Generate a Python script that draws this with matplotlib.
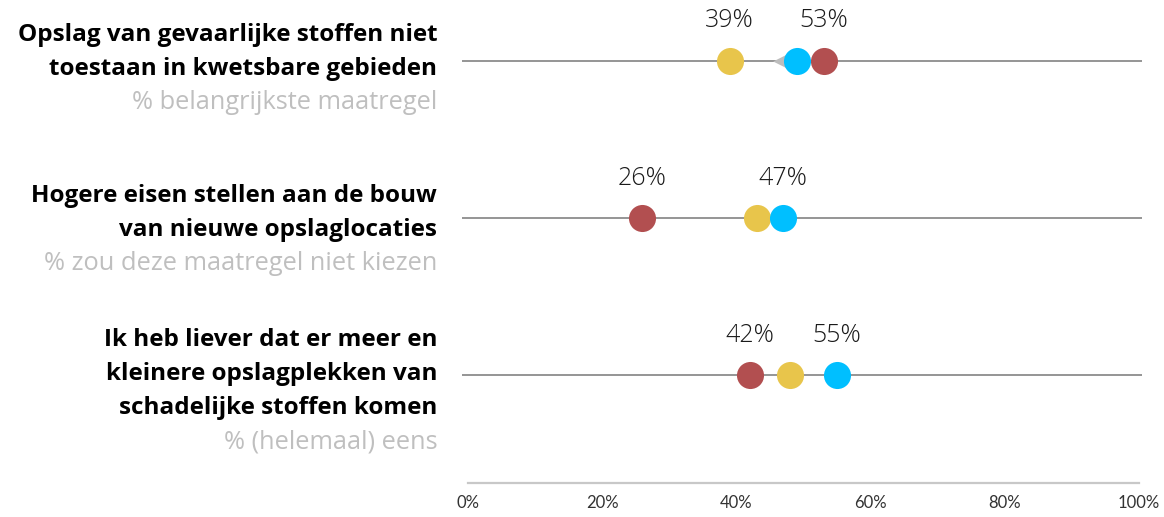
import matplotlib
matplotlib.use("Agg")
import matplotlib.pyplot as plt
from matplotlib.ticker import FuncFormatter

# --- data -------------------------------------------------------------
titles = [
    ["Opslag van gevaarlijke stoffen niet", "toestaan in kwetsbare gebieden"],
    ["Hogere eisen stellen aan de bouw", "van nieuwe opslaglocaties"],
    ["Ik heb liever dat er meer en", "kleinere opslagplekken van", "schadelijke stoffen komen"],
]
subtitles = ["% belangrijkste maatregel", "% zou deze maatregel niet kiezen", "% (helemaal) eens"]

yellow = [39, 43, 48]
blue = [49, 47, 55]
red = [53, 26, 42]
grey_marker = [46.5, None, None]

# value labels shown above each row: (series, row)
labelled = [("yellow", 0), ("red", 0), ("red", 1), ("blue", 1), ("red", 2), ("blue", 2)]

xticks = [0, 20, 40, 60, 80, 100]

# --- style ------------------------------------------------------------
C_YELLOW = "#E8C54B"
C_BLUE = "#00BFFF"
C_RED = "#B24F50"
C_GREY = "#BDBDBD"

W, H = 1164, 517
fig = plt.figure(figsize=(W / 100, H / 100), dpi=100)
ax = fig.add_axes([468 / W, (H - 483) / H, 671 / W, 483 / H])

rows = list(range(len(titles)))
ax.set_xlim(0, 100)
ax.set_ylim(2.687, -0.386)

for r in rows:
    ax.plot([-0.9, 100.4], [r, r], color="#8C8C8C", lw=1.3, zorder=1,
            clip_on=False, solid_capstyle="butt")

for r, v in enumerate(grey_marker):
    if v is not None:
        ax.scatter([v], [r], marker="<", s=110, color=C_GREY, zorder=2, linewidths=0)

series = {"yellow": (yellow, C_YELLOW), "red": (red, C_RED), "blue": (blue, C_BLUE)}
for name in ["yellow", "red", "blue"]:
    vals, col = series[name]
    ax.scatter(vals, rows, s=380, color=col, zorder=3, linewidths=0)

for name, r in labelled:
    v = series[name][0][r]
    ax.annotate(f"{v}%", xy=(v, r), xytext=(0, 24), textcoords="offset points",
                ha="center", va="baseline", fontsize=18, color="#1a1a1a",
                family="Open Sans", fontweight="light")

# row titles on the left, right aligned
first_baseline_px = [-20, -16, -29]
line_px = 34
for r in rows:
    lines = titles[r] + [subtitles[r]]
    for i, line in enumerate(lines):
        is_sub = i == len(lines) - 1
        dy_px = first_baseline_px[r] + i * line_px
        ax.annotate(line, xy=(-0.046, r), xycoords=("axes fraction", "data"),
                    xytext=(0, -dy_px * 0.72), textcoords="offset points",
                    ha="right", va="baseline", fontsize=18.3 if is_sub else 17.5,
                    family="Open Sans", fontweight="normal" if is_sub else "bold",
                    color="#BFBFBF" if is_sub else "black", annotation_clip=False)

ax.set_xticks(xticks)
ax.xaxis.set_major_formatter(FuncFormatter(lambda x, _: f"{int(x)}%"))
ax.tick_params(axis="x", length=0, pad=9, labelsize=12, labelcolor="#333333")
for lbl in ax.get_xticklabels():
    lbl.set_family("Lato")
ax.set_yticks([])
for s in ["top", "left", "right"]:
    ax.spines[s].set_visible(False)
ax.spines["bottom"].set_color("#C8C8C8")
ax.spines["bottom"].set_linewidth(1.6)
ax.patch.set_alpha(0)

fig.savefig("out.png", dpi=100)
